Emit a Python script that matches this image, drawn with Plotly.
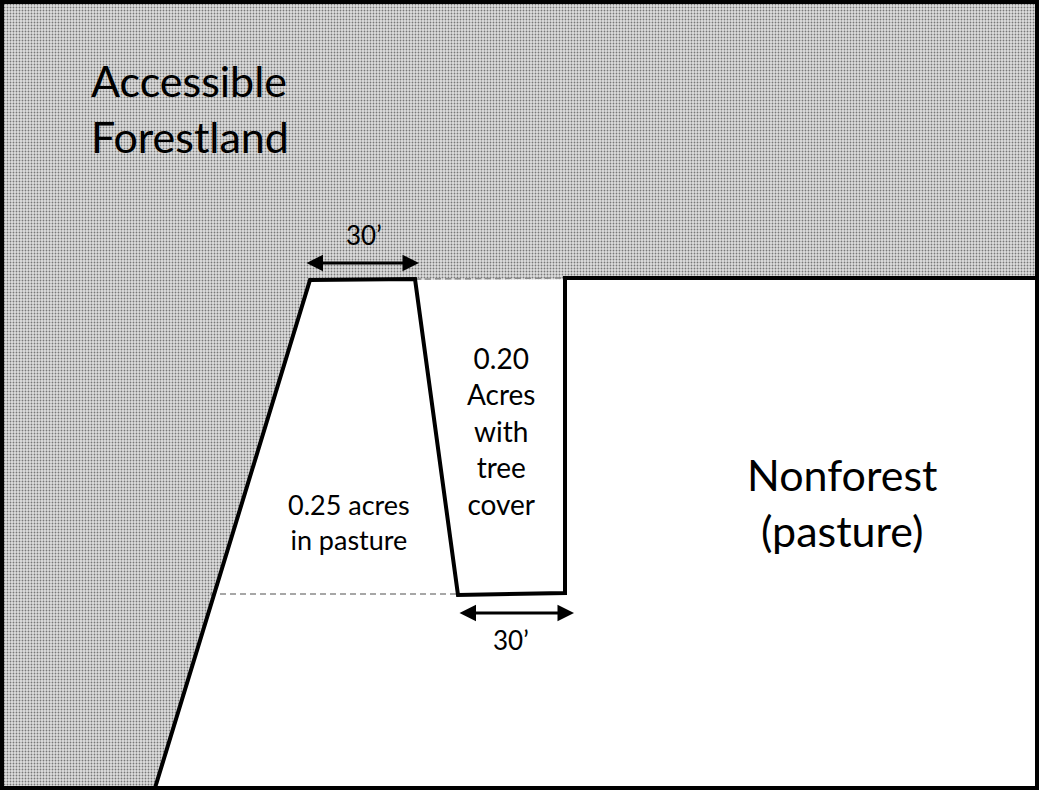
import plotly.graph_objects as go

# Boundary between accessible forestland and nonforest (pixel space, y down)
edge_x = [1039, 565, 565, 458, 415, 310, 155]
edge_y = [278, 278, 593, 595, 279, 280, 788]

# Stippled forest area outline
forest_x = [0, 1039, 1039, 310, 155, 0]
forest_y = [0, 0, 278, 280, 788, 788]

# Dashed guide lines
guide_top_x = [415, 565]
guide_top_y = [279, 278]
guide_bot_x = [210, 458]
guide_bot_y = [594, 594]

# 30' dimension arrows: (x start, x end, y)
arrow_top = (305, 419, 263)
arrow_bot = (458, 574, 613)

# text, x, y, size, anchor
labels = [
    ("Accessible<br>Forestland", 89, 108, 43, "left"),
    ("30’", 364, 235, 26, "center"),
    ("30’", 511, 640, 26, "center"),
    ("0.20<br>Acres<br>with<br>tree<br>cover", 501, 431, 28, "center"),
    ("0.25 acres<br>in pasture", 349, 522, 27, "center"),
    ("Nonforest<br>(pasture)", 842, 502, 43, "center"),
]

W, H = 1039, 790
FONT = "Lato, 'Open Sans', sans-serif"

fig = go.Figure()

# --- stippled forest area
fig.add_trace(go.Scatter(
    x=forest_x, y=forest_y, mode="lines", fill="toself",
    line=dict(width=0), fillcolor="#d6d6d6",
    fillpattern=dict(shape=".", fgcolor="#111", bgcolor="#dedede", size=3, solidity=0.3),
    hoverinfo="skip", showlegend=False,
))

# --- dashed guides
for gx, gy in [(guide_top_x, guide_top_y), (guide_bot_x, guide_bot_y)]:
    fig.add_trace(go.Scatter(
        x=gx, y=gy, mode="lines",
        line=dict(color="#8a8a8a", width=1.5, dash="6px,4px"),
        hoverinfo="skip", showlegend=False,
    ))

# --- boundary
fig.add_trace(go.Scatter(
    x=edge_x, y=edge_y, mode="lines",
    line=dict(color="black", width=4), hoverinfo="skip", showlegend=False,
))

# --- arrows
for xa, xb, ya in [arrow_top, arrow_bot]:
    fig.add_annotation(
        x=xb, y=ya, ax=xa, ay=ya, xref="x", yref="y", axref="x", ayref="y",
        text="", showarrow=True, arrowhead=2, arrowside="end+start",
        arrowsize=1.1, arrowwidth=3, arrowcolor="black",
    )

# --- labels
for txt, lx, ly, sz, anc in labels:
    fig.add_annotation(
        x=lx, y=ly, text=txt, showarrow=False, xref="x", yref="y",
        xanchor=anc, yanchor="middle", align=anc,
        font=dict(family=FONT, size=sz, color="black"),
    )

# --- frame
fig.add_shape(type="rect", x0=2, x1=W - 2, y0=2, y1=788,
              line=dict(color="black", width=4), xref="x", yref="y")

fig.update_layout(
    width=W, height=H,
    margin=dict(l=0, r=0, t=0, b=0),
    plot_bgcolor="white", paper_bgcolor="white",
)
fig.update_xaxes(range=[0, W], visible=False, fixedrange=True)
fig.update_yaxes(range=[H, 0], visible=False, fixedrange=True)

fig.write_html(
    "out.html",
    config={"displayModeBar": False},
    post_script="document.body.style.margin='0';document.body.style.overflow='hidden';",
)
